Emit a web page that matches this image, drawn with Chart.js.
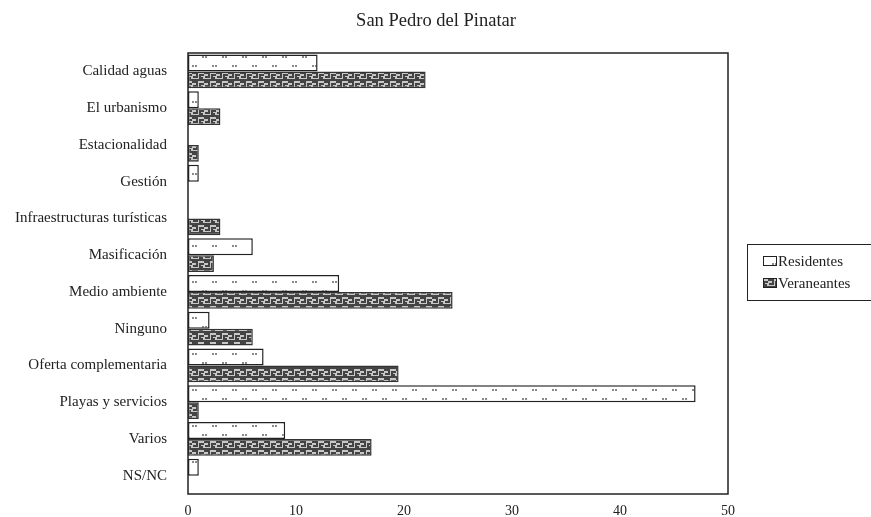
<!DOCTYPE html>
<html>
<head>
<meta charset="utf-8">
<script src="https://cdn.jsdelivr.net/npm/chart.js@4"></script>
<style>
    body { margin: 0; background: #fff; }
    #wrap { width: 871px; height: 517px; }
</style>
</head>
<body>
<div id="wrap"><canvas id="chart" width="871" height="517"></canvas></div>
<script>
// Data
const titleText = "San Pedro del Pinatar";
const categories = [
    "Calidad aguas", "El urbanismo", "Estacionalidad", "Gestión",
    "Infraestructuras turísticas", "Masificación", "Medio ambiente", "Ninguno",
    "Oferta complementaria", "Playas y servicios", "Varios", "NS/NC"
];
const residentes = [12, 1, 0, 1, 0, 6, 14, 2, 7, 47, 9, 1];
const veraneantes = [22, 3, 1, 0, 3, 2.4, 24.5, 6, 19.5, 1, 17, 0];
const xTicks = [0, 10, 20, 30, 40, 50];

const serif = "'Liberation Serif', 'DejaVu Serif', serif";

// pattern for Residentes: white with pairs of small grey dots
function dotPattern() {
    const c = document.createElement('canvas');
    c.width = 20; c.height = 18;
    const g = c.getContext('2d');
    g.fillStyle = '#fff';
    g.fillRect(0, 0, 20, 18);
    g.fillStyle = '#8a8a8a';
    g.fillRect(2, 2, 2, 2); g.fillRect(5, 2, 2, 2);
    g.fillRect(12, 11, 2, 2); g.fillRect(15, 11, 2, 2);
    return g.createPattern(c, 'repeat');
}

// pattern for Veraneantes: grey meander
function keyPattern() {
    const c = document.createElement('canvas');
    c.width = 12; c.height = 9;
    const g = c.getContext('2d');
    g.fillStyle = '#c8c8c8';
    g.fillRect(0, 0, 12, 9);
    g.fillStyle = '#444';
    g.fillRect(0, 0, 6, 2);
    g.fillRect(4, 0, 2, 6);
    g.fillRect(1, 4, 4, 2);
    g.fillRect(0, 7, 12, 2);
    g.fillRect(7, 2, 5, 2);
    g.fillRect(7, 2, 2, 5);
    g.fillRect(9, 5, 2, 2);
    return g.createPattern(c, 'repeat');
}

const resFill = dotPattern();
const verFill = keyPattern();

// frame around the plot area, title and boxed legend on the right
const decorations = {
    id: 'decorations',
    afterDraw(chart) {
        const ctx = chart.ctx;
        const a = chart.chartArea;
        ctx.save();
        ctx.strokeStyle = '#222';
        ctx.lineWidth = 1.5;
        ctx.strokeRect(a.left, a.top, a.right - a.left, a.bottom - a.top);

        ctx.fillStyle = '#222';
        ctx.font = "18.5px " + serif;
        ctx.textAlign = 'center';
        ctx.textBaseline = 'middle';
        ctx.fillText(titleText, 436, 21);

        ctx.lineWidth = 1;
        ctx.strokeRect(747.5, 244.5, 130, 56);
        ctx.font = "15px " + serif;
        ctx.textAlign = 'left';
        const fills = [resFill, verFill];
        chart.data.datasets.forEach(function (ds, i) {
            const y = 261 + i * 22;
            ctx.fillStyle = fills[i];
            ctx.fillRect(763, y - 5, 14, 10);
            ctx.strokeStyle = '#222';
            ctx.strokeRect(763.5, y - 4.5, 13, 9);
            ctx.fillStyle = '#222';
            ctx.fillText(ds.label, 778, y + 1);
        });
        ctx.restore();
    }
};

const zeroless = c => (c.raw === 0 ? 0 : 1.5);

new Chart(document.getElementById('chart'), {
    type: 'bar',
    data: {
        labels: categories,
        datasets: [{
            label: "Residentes",
            data: residentes,
            backgroundColor: resFill,
            borderColor: '#222',
            borderWidth: zeroless,
            borderSkipped: false,
            barPercentage: 1,
            categoryPercentage: 0.92
        }, {
            label: "Veraneantes",
            data: veraneantes,
            backgroundColor: verFill,
            borderColor: '#333',
            borderWidth: zeroless,
            borderSkipped: false,
            barPercentage: 1,
            categoryPercentage: 0.92
        }]
    },
    options: {
        indexAxis: 'y',
        responsive: false,
        animation: false,
        layout: { padding: { top: 53, right: 143, left: 0, bottom: 0 } },
        plugins: {
            legend: { display: false },
            title: { display: false },
            tooltip: { enabled: false }
        },
        scales: {
            x: {
                min: 0,
                max: 50,
                afterBuildTicks: s => { s.ticks = xTicks.map(v => ({ value: v })); },
                afterFit: s => { s.height = 23; },
                grid: { display: false },
                border: { display: false },
                ticks: { color: '#222', padding: 1, font: { family: serif, size: 14 } }
            },
            y: {
                afterFit: s => { s.width = 188; },
                grid: { display: false },
                border: { display: false },
                ticks: { color: '#222', padding: 13, font: { family: serif, size: 15 } }
            }
        }
    },
    plugins: [decorations]
});
</script>
</body>
</html>
